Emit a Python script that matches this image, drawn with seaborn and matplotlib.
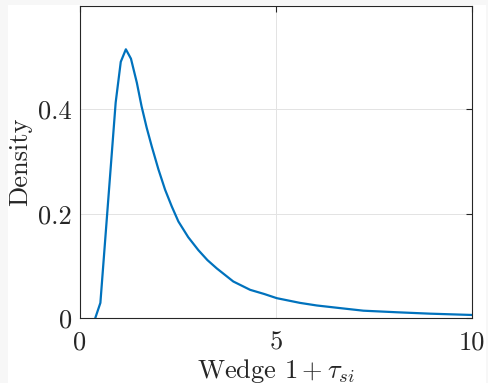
import seaborn as sns
import matplotlib.pyplot as plt
import pandas as pd
from matplotlib.patches import Rectangle

# density of wedge 1 + tau_si
wedge = [0.39, 0.52, 0.91, 1.04, 1.17, 1.30, 1.45, 1.57, 1.70, 1.83, 2.00, 2.17,
         2.34, 2.51, 2.76, 3.02, 3.25, 3.49, 3.91, 4.34, 4.70, 5.02, 5.61, 6.04,
         6.63, 7.23, 8.08, 8.93, 10.0]
density = [0.0, 0.029, 0.413, 0.491, 0.515, 0.497, 0.451, 0.406, 0.365, 0.329,
           0.285, 0.246, 0.214, 0.185, 0.155, 0.130, 0.111, 0.095, 0.070, 0.054,
           0.046, 0.038, 0.029, 0.024, 0.019, 0.014, 0.011, 0.0083, 0.0058]
xticks = [0, 5, 10]
yticks = [0, 0.2, 0.4]

sns.set_style('white')
plt.rcParams['font.family'] = ['cmr10', 'DejaVu Serif']
plt.rcParams['mathtext.fontset'] = 'cm'
plt.rcParams['axes.formatter.use_mathtext'] = True

df = pd.DataFrame({'wedge': wedge, 'density': density})

fig = plt.figure(figsize=(4.88, 3.83), dpi=100, facecolor='#f7f7f7')
fig.patches.append(Rectangle((8 / 488, 0), 478 / 488, 1 - 5 / 383,
                             transform=fig.transFigure, facecolor='white',
                             edgecolor='none', zorder=-10))
ax = fig.add_axes([80 / 488, 1 - 318 / 383, 392 / 488, 312 / 383])

sns.lineplot(data=df, x='wedge', y='density', color='#0072BD', linewidth=1.6, ax=ax)

ax.set_xlim(0, 10)
ax.set_ylim(0, 0.598)
ax.set_xticks(xticks)
ax.set_yticks(yticks)
ax.set_xticklabels(['0', '5', '10'])
ax.set_yticklabels(['0', '0.2', '0.4'])
ax.grid(True, color='#e3e3e3', linewidth=0.7)
ax.set_axisbelow(True)
for s in ax.spines.values():
    s.set_color('#262626')
    s.set_linewidth(0.8)
    s.set_visible(True)
ax.tick_params(direction='in', length=4, width=0.8, color='#262626',
               top=True, right=True, labelsize=19, labelcolor='#262626')
ax.tick_params(axis='x', pad=9)
ax.tick_params(axis='y', pad=6)
ax.set_xlabel(r'Wedge $1+\tau_{si}$', fontsize=19, color='#262626', labelpad=2)
ax.set_ylabel('Density', fontsize=19, color='#262626', labelpad=4)

fig.savefig('out.png', dpi=100, facecolor=fig.get_facecolor())
